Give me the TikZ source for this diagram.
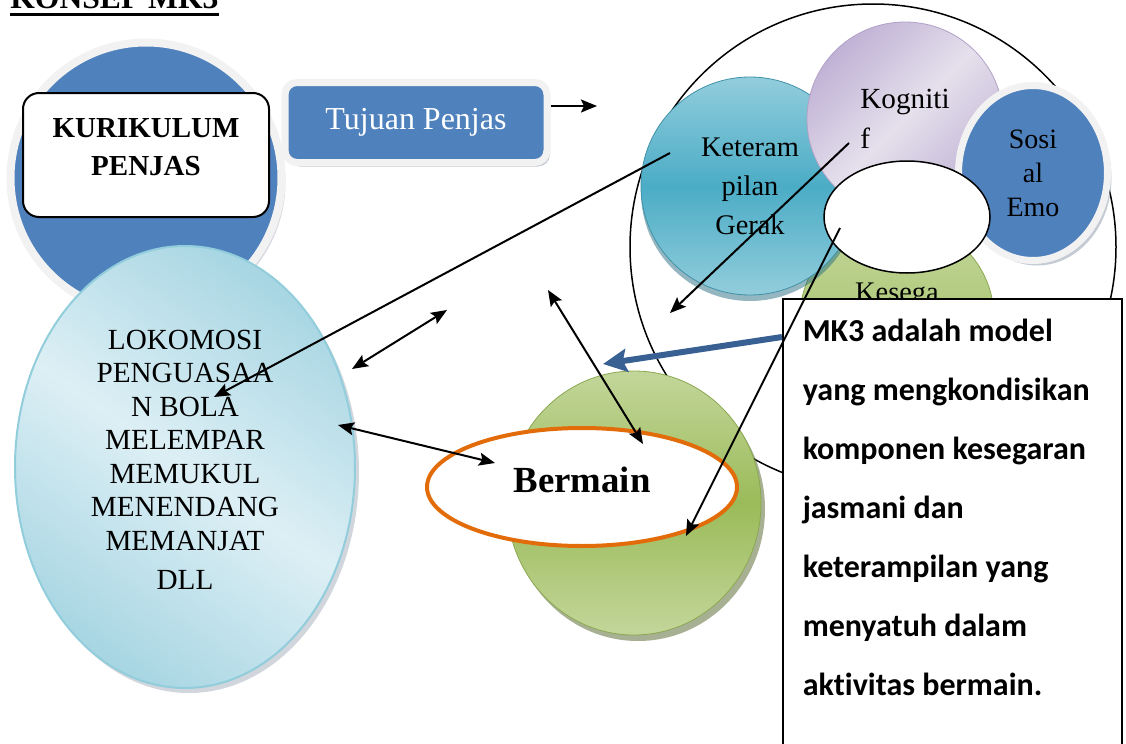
\documentclass[tikz,border=0pt]{standalone}
\usepackage{fontspec}
\setmainfont{Liberation Serif}
\newfontfamily\calib[Ligatures={NoCommon,NoContextual}]{Carlito}
\usetikzlibrary{arrows.meta,positioning,shapes.geometric,shadows}
\definecolor{office}{RGB}{79,129,189}
\definecolor{ring}{RGB}{242,242,242}
\definecolor{shadowgray}{RGB}{140,152,170}
\definecolor{teal1}{RGB}{75,172,198}
\definecolor{teal2}{RGB}{146,205,220}
\definecolor{tealdark}{RGB}{40,110,130}
\definecolor{lav1}{RGB}{229,224,236}
\definecolor{lav2}{RGB}{192,178,213}
\definecolor{lavline}{RGB}{178,161,199}
\definecolor{leaf1}{RGB}{155,187,89}
\definecolor{leaf2}{RGB}{195,214,155}
\definecolor{leafdark}{RGB}{79,98,40}
\definecolor{sky1}{RGB}{221,239,245}
\definecolor{sky2}{RGB}{168,214,227}
\definecolor{skyline}{RGB}{146,205,220}
\definecolor{rust}{RGB}{227,108,10}
\definecolor{steel}{RGB}{56,96,146}

\begin{document}
\begin{tikzpicture}[x=0.5pt,y=-0.5pt,
    blob/.style={inner sep=0pt,align=center,font=\fontsize{14.2}{19.5}\selectfont},
    arr/.style={line width=1pt,-{Stealth[length=8pt,width=6.5pt,inset=1.5pt]}},
    darr/.style={line width=1pt,{Stealth[length=8pt,width=6.5pt,inset=1.5pt]}-{Stealth[length=8pt,width=6.5pt,inset=1.5pt]}}]
  \useasboundingbox (0,0) rectangle (1126,744);

  % judul
  \node[anchor=base west,inner sep=0pt,font=\bfseries\fontsize{15.8}{18}\selectfont] (judul) at (10,9) {KONSEP MK3};
  \draw[line width=1.5pt] ([yshift=-2.75pt]judul.base west) -- ([yshift=-2.75pt]judul.base east);

  % kurikulum
  \node[circle,minimum size=135.5pt,inner sep=0pt,fill=office,draw=ring,line width=4pt,
    drop shadow={shadow xshift=2pt,shadow yshift=-2pt,fill=shadowgray!70}] (kurbg) at (146,178) {};
  \node[ellipse,minimum width=170pt,minimum height=221pt,inner sep=0pt,draw=skyline,line width=1pt,
    left color=sky2,right color=sky2,middle color=sky1,shading angle=-35,
    drop shadow={shadow xshift=2pt,shadow yshift=-2.5pt,fill=shadowgray!80},
    align=center,text depth=7pt,font=\fontsize{14.6}{16.75}\selectfont] (lok) at (185,467)
    {LOKOMOSI\\PENGUASAA\\N BOLA\\MELEMPAR\\MEMUKUL\\MENENDANG\\MEMANJAT\\[3pt]DLL};
  \node[draw,line width=1pt,fill=white,rounded corners=8pt,minimum width=123pt,minimum height=62pt,
    align=center,text depth=8pt,font=\bfseries\fontsize{14.5}{19}\selectfont] (kur) at (146,155)
    {KURIKULUM\\PENJAS};

  \node[fill=office,draw=ring,line width=3.5pt,rounded corners=6pt,minimum width=131pt,minimum height=40pt,
    text=white,font=\fontsize{16}{19}\selectfont,
    drop shadow={shadow xshift=1.5pt,shadow yshift=-2pt,fill=shadowgray}] (tuj) at (416,122.5) {Tujuan Penjas};
  \coordinate (tujTo) at (597,106);

  % ranah
  \node[circle,draw,line width=0.75pt,fill=white,minimum size=243pt] (ranah) at (873,247) {};
  \node[blob,circle,minimum size=97pt,top color=leaf2,bottom color=leaf1,draw=leaf1!90!black,
    text height=10pt,text depth=27pt] (segar) at (897,318) {Kesega};
  \node[blob,circle,minimum size=109pt,top color=teal2,bottom color=teal2,middle color=teal1,
    draw=teal1!85!black,drop shadow={shadow xshift=0pt,shadow yshift=-3pt,fill=tealdark}] (gerak) at (750,186)
    {Keteram\\pilan\\Gerak};
  \node[blob,ellipse,minimum width=98pt,minimum height=97pt,left color=lav2,right color=lav2,middle color=lav1,
    shading angle=45,draw=lavline,align=left,font=\fontsize{14.6}{20}\selectfont] (kog) at (905,119) {Kogniti\\f};
  \node[blob,ellipse,minimum width=74.5pt,minimum height=87.5pt,fill=office,draw=ring,line width=3.5pt,
    font=\fontsize{14}{17}\selectfont,
    drop shadow={shadow xshift=2pt,shadow yshift=-2.5pt,fill=shadowgray}] (sos) at (1033,173) {Sosi\\al\\Emo};
  \node[ellipse,minimum width=83pt,minimum height=56pt,draw,line width=0.75pt,fill=white] (inti) at (907,217) {};

  % bermain
  \node[ellipse,minimum width=127pt,minimum height=132pt,top color=leaf2,bottom color=leaf2,middle color=leaf1,
    draw=leaf1!90!black,drop shadow={shadow xshift=2pt,shadow yshift=-3pt,fill=leafdark}] (hijau) at (634,503) {};
  \node[ellipse,minimum width=155pt,minimum height=59pt,draw=rust,line width=2pt,fill=white,
    text depth=7pt,font=\bfseries\fontsize{18.4}{22}\selectfont] (main) at (582,487) {Bermain};

  % keterangan
  \node[draw,line width=0.75pt,fill=white,anchor=north west,inner xsep=10pt,inner ysep=10pt,
    font=\calib\bfseries\fontsize{16}{29.5}\selectfont] (mk) at (782,298)
    {\parbox[t][250pt][t]{149.5pt}{\raggedright MK3 adalah model\\yang mengkondisikan\\komponen kesegaran\\jasmani dan\\keterampilan yang\\menyatuh dalam\\aktivitas bermain.}};

  % panah
  \coordinate (gerakFrom) at (670,153);  \coordinate (bolaTo) at (214,397);
  \coordinate (kogFrom) at (849,143);    \coordinate (ranahTo) at (670,313);
  \coordinate (intiFrom) at (840,228);   \coordinate (mainC) at (686,536);
  \coordinate (lokA) at (352,369);       \coordinate (lokB) at (447,310);
  \coordinate (lokC) at (338,425);       \coordinate (mainA) at (495,463);
  \coordinate (ujungA) at (548,290);     \coordinate (mainB) at (643,444);
  \coordinate (mkTo) at (603,364);

  \draw[arr] (tuj.east |- tujTo) -- (tujTo);
  \foreach \a/\b in {gerakFrom/bolaTo,kogFrom/ranahTo,intiFrom/mainC}
    \draw[arr] (\a) -- (\b);
  \foreach \a/\b in {lokA/lokB,lokC/mainA,ujungA/mainB}
    \draw[darr] (\a) -- (\b);
  \draw[steel,line width=3pt,-{Stealth[length=12pt,width=11.5pt,inset=2pt]}] ([yshift=-19.5pt]mk.north west) -- (mkTo);
\end{tikzpicture}
\end{document}
